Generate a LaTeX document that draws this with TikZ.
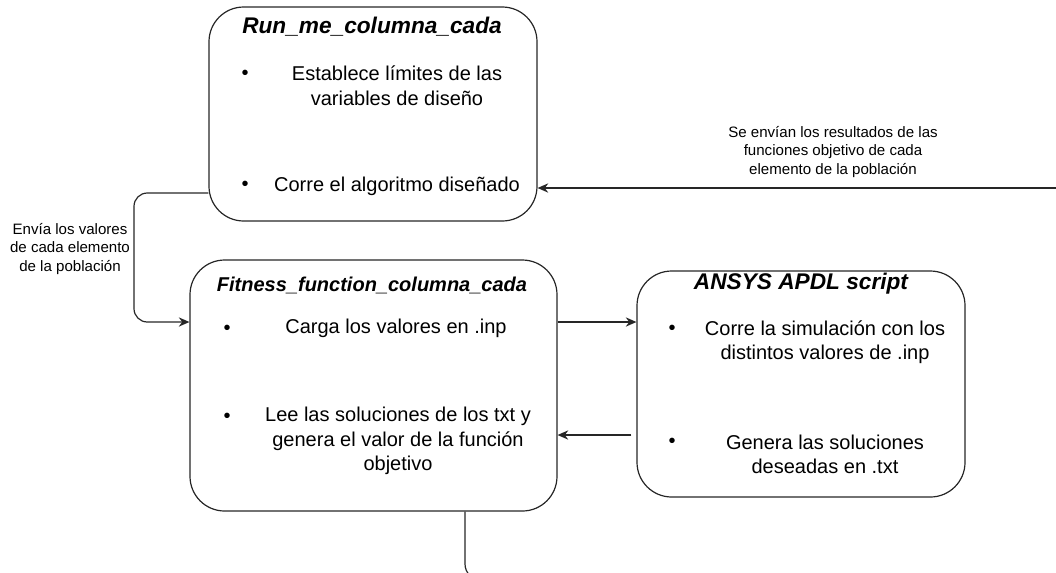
\documentclass[tikz,border=0pt]{standalone}
\usepackage{fontspec}
\setmainfont{Liberation Sans}
\usetikzlibrary{positioning, arrows.meta, calc}
\tikzset{
    >={Stealth[length=8pt, width=7pt]}, % draw.io like arrow heads
    block/.style={draw=black!85, line width=0.9pt, rounded corners=26pt, inner sep=0pt},
    title/.style={font=\fontsize{17}{20}\selectfont\bfseries\itshape},
    body/.style={font=\fontsize{15}{18.4}\selectfont, align=center, inner sep=0pt},
    dot/.style={font=\fontsize{15}{18}\selectfont, inner sep=0pt},
    lbl/.style={font=\fontsize{11.3}{13.9}\selectfont, align=center, inner sep=0pt},
    link/.style={->, draw=black!85, line width=0.9pt, rounded corners=10pt}
}

\begin{document}
\begin{tikzpicture}[x=0.75pt, y=-0.75pt]
    \useasboundingbox (0,0) rectangle (1056,572);

    % boxes
    \node[block, minimum width=246pt, minimum height=160.5pt] (run) at (373,114) {};
    \node[block, minimum width=275.25pt, minimum height=188.25pt] (fit) at (373.5,385.5) {};
    \node[block, minimum width=246pt, minimum height=169.5pt] (ansys) at (801,384) {};

    % Run_me_columna_cada
    \node[title] (runT) at (372,27) {Run\_me\_columna\_cada};
    \node[dot] (runB1) at (245,75) {•};
    \node[body] (runL1) at (397,85.5) {Establece límites de las\\variables de diseño};
    \node[dot] (runB2) at (245,186) {•};
    \node[body] (runL2) at (397,186) {Corre el algoritmo diseñado};

    % Fitness_function_columna_cada
    \node[title, font=\fontsize{15}{18}\selectfont\bfseries\itshape] (fitT) at (372,285) {Fitness\_function\_columna\_cada};
    \node[dot] (fitB1) at (227,330) {•};
    \node[body] (fitL1) at (396,328) {Carga los valores en .inp};
    \node[dot] (fitB2) at (227,418) {•};
    \node[body] (fitL2) at (398,441) {Lee las soluciones de los txt y\\genera el valor de la función\\objetivo};

    % ANSYS APDL script
    \node[title] (ansysT) at (801,284) {ANSYS APDL script};
    \node[dot] (ansysB1) at (672,330) {•};
    \node[body] (ansysL1) at (825,342) {Corre la simulación con los\\distintos valores de .inp};
    \node[dot] (ansysB2) at (672,443) {•};
    \node[body] (ansysL2) at (825,454.5) {Genera las soluciones\\deseadas en .txt};

    % connector labels
    \node[lbl] (sendL) at (70,249) {Envía los valores\\de cada elemento\\de la población};
    \node[lbl] (backL) at (833,152) {Se envían los resultados de las\\funciones objetivo de cada\\elemento de la población};

    \coordinate (fromR) at (1056,188);
    \coordinate (down) at (465,580);

    \draw[link] (run.west |- 0,193) -- (134,193) -- (134,322) -- (fit.west |- 0,322);
    \draw[link] (fit.east |- 0,322) -- (ansys.west |- 0,322);
    \draw[link] ($(ansys.west |- 0,435)+(-5,0)$) -- (fit.east |- 0,435);
    \draw[link] (fromR) -- (run.east |- fromR);
    \draw[draw=black!85, line width=0.9pt, rounded corners=12pt] (fit.south -| down) -- (down) -- ++(60,0);
\end{tikzpicture}
\end{document}
